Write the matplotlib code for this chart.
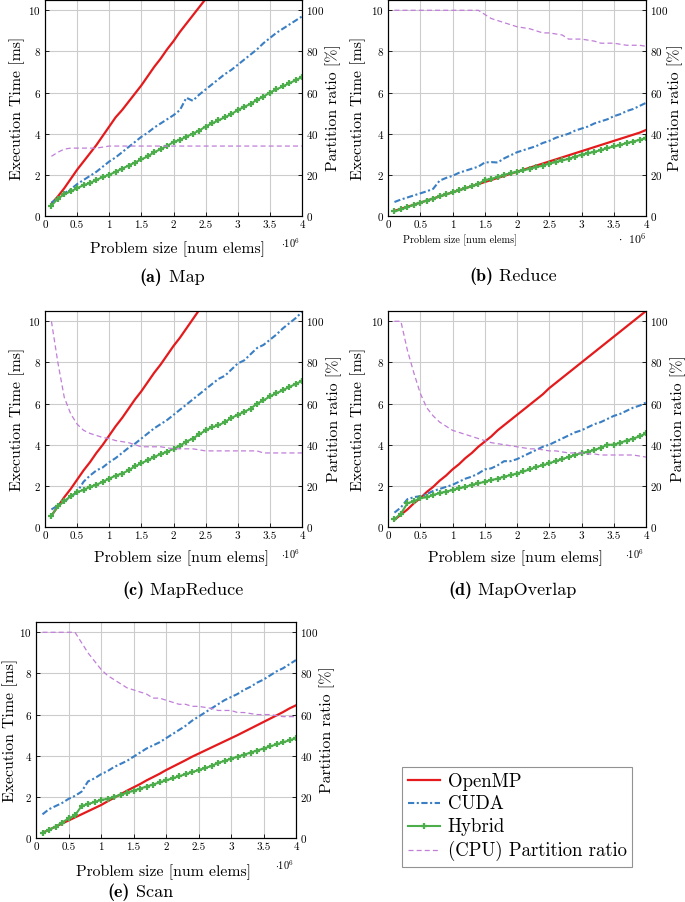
import matplotlib
matplotlib.use("Agg")
import matplotlib.pyplot as plt

plt.rcParams['font.family'] = ['cmr10', 'DejaVu Serif']
plt.rcParams['mathtext.fontset'] = 'cm'
plt.rcParams['axes.formatter.use_mathtext'] = True

# ---------------- data (x in millions of elements) ----------------
X = [0.1, 0.2, 0.3, 0.4, 0.5, 0.6, 0.7, 0.8, 0.9, 1.0,
     1.1, 1.2, 1.3, 1.4, 1.5, 1.6, 1.7, 1.8, 1.9, 2.0,
     2.1, 2.2, 2.3, 2.4, 2.5, 2.6, 2.7, 2.8, 2.9, 3.0,
     3.1, 3.2, 3.3, 3.4, 3.5, 3.6, 3.7, 3.8, 3.9, 4.0]

# (a) Map
map_openmp = [0.6, 0.95, 1.35, 1.8, 2.25, 2.65, 3.05, 3.45, 3.9, 4.35,
              4.8, 5.15, 5.55, 5.95, 6.35, 6.8, 7.25, 7.65, 8.1, 8.5,
              8.95, 9.35, 9.75, 10.15, 10.55, 10.95]
map_cuda = [0.65, 0.85, 1.1, 1.3, 1.55, 1.75, 1.95, 2.15, 2.4, 2.65,
            2.85, 3.1, 3.35, 3.6, 3.85, 4.05, 4.3, 4.5, 4.7, 4.9,
            5.15, 5.75, 5.6, 5.9, 6.15, 6.4, 6.65, 6.9, 7.1, 7.35,
            7.6, 7.85, 8.1, 8.4, 8.65, 8.9, 9.1, 9.3, 9.5, 9.7]
map_hybrid = [0.5, 0.85, 1.05, 1.2, 1.35, 1.5, 1.6, 1.75, 1.9, 2.0,
              2.15, 2.3, 2.45, 2.6, 2.75, 2.9, 3.1, 3.25, 3.4, 3.6,
              3.7, 3.85, 4.0, 4.15, 4.35, 4.5, 4.65, 4.8, 4.95, 5.15,
              5.3, 5.45, 5.65, 5.8, 6.0, 6.15, 6.3, 6.45, 6.6, 6.75]
map_ratio = [29, 31, 32.5, 33, 33, 33, 33, 33, 33.5, 34,
             34, 34, 34, 34, 34, 34, 34, 34, 34, 34,
             34, 34, 34, 34, 34, 34, 34, 34, 34, 34,
             34, 34, 34, 34, 34, 34, 34, 34, 34, 34]

# (b) Reduce
red_openmp = [0.25, 0.35, 0.45, 0.55, 0.65, 0.75, 0.85, 0.95, 1.05, 1.15,
              1.25, 1.35, 1.45, 1.55, 1.65, 1.75, 1.85, 1.95, 2.05, 2.15,
              2.25, 2.35, 2.45, 2.55, 2.65, 2.75, 2.85, 2.95, 3.05, 3.15,
              3.25, 3.35, 3.45, 3.55, 3.65, 3.75, 3.85, 3.95, 4.05, 4.18]
red_cuda = [0.68, 0.8, 0.9, 1.0, 1.1, 1.2, 1.32, 1.72, 1.85, 1.95,
            2.1, 2.2, 2.3, 2.4, 2.6, 2.62, 2.6, 2.8, 2.95, 3.1,
            3.2, 3.3, 3.4, 3.55, 3.65, 3.8, 3.9, 4.0, 4.15, 4.25,
            4.35, 4.5, 4.6, 4.7, 4.85, 4.95, 5.1, 5.2, 5.35, 5.5]
red_hybrid = [0.22, 0.32, 0.42, 0.55, 0.65, 0.75, 0.85, 0.95, 1.05, 1.15,
              1.25, 1.35, 1.45, 1.55, 1.75, 1.8, 1.9, 2.0, 2.08, 2.15,
              2.22, 2.3, 2.38, 2.45, 2.55, 2.62, 2.7, 2.78, 2.88, 2.98,
              3.05, 3.12, 3.2, 3.3, 3.38, 3.45, 3.55, 3.62, 3.7, 3.78]
red_ratio = [100, 100, 100, 100, 100, 100, 100, 100, 100, 100,
             100, 100, 100, 100, 98, 96, 95, 94, 93, 92,
             91.5, 91, 90, 89, 89, 88.5, 88, 86, 86, 86,
             85.5, 85, 84, 84, 84, 83.5, 83, 83, 83, 82.5]

# (c) MapReduce
mr_openmp = [0.55, 1.0, 1.45, 1.85, 2.3, 2.75, 3.15, 3.6, 4.0, 4.45,
             4.9, 5.3, 5.75, 6.2, 6.6, 7.05, 7.5, 7.9, 8.35, 8.8,
             9.2, 9.65, 10.1, 10.55, 11.0]
mr_cuda = [0.85, 1.05, 1.25, 1.45, 1.7, 2.2, 2.5, 2.75, 2.9, 3.15,
           3.35, 3.6, 3.85, 4.05, 4.3, 4.55, 4.8, 5.0, 5.2, 5.45,
           5.7, 5.95, 6.2, 6.45, 6.7, 6.95, 7.2, 7.35, 7.65, 7.95,
           8.1, 8.4, 8.7, 8.85, 9.1, 9.35, 9.65, 9.9, 10.15, 10.45]
mr_hybrid = [0.55, 1.0, 1.25, 1.5, 1.7, 1.8, 1.95, 2.05, 2.2, 2.35,
             2.5, 2.6, 2.75, 2.95, 3.1, 3.25, 3.4, 3.55, 3.65, 3.8,
             3.95, 4.15, 4.3, 4.5, 4.7, 4.85, 4.95, 5.1, 5.3, 5.45,
             5.6, 5.75, 6.0, 6.15, 6.35, 6.5, 6.65, 6.8, 6.95, 7.1]
mr_ratio = [100, 80, 63, 55, 50, 47, 45.5, 44.5, 43.5, 43,
            42, 41.5, 41, 40, 39, 39, 39, 39, 38.5, 38,
            38, 38, 38, 37.5, 37, 37, 37, 37, 37, 37,
            37, 37, 37, 36, 36, 36, 36, 36, 36, 36]

# (d) MapOverlap
mo_openmp = [0.35, 0.6, 0.85, 1.15, 1.4, 1.7, 1.95, 2.25, 2.5, 2.8,
             3.05, 3.35, 3.6, 3.9, 4.15, 4.4, 4.7, 4.95, 5.2, 5.45,
             5.7, 5.95, 6.2, 6.45, 6.75, 7.0, 7.25, 7.5, 7.75, 8.0,
             8.25, 8.5, 8.75, 9.0, 9.25, 9.5, 9.75, 10.0, 10.25, 10.5]
mo_cuda = [0.7, 0.95, 1.35, 1.45, 1.5, 1.6, 1.75, 1.85, 1.95, 2.05,
           2.2, 2.35, 2.45, 2.6, 2.8, 2.85, 3.0, 3.2, 3.2, 3.3,
           3.45, 3.6, 3.75, 3.9, 4.0, 4.15, 4.3, 4.45, 4.6, 4.7,
           4.85, 5.0, 5.1, 5.25, 5.4, 5.5, 5.65, 5.8, 5.9, 6.05]
mo_hybrid = [0.38, 0.65, 1.15, 1.25, 1.4, 1.45, 1.55, 1.65, 1.72, 1.8,
             1.88, 1.95, 2.05, 2.12, 2.2, 2.28, 2.35, 2.45, 2.52, 2.6,
             2.7, 2.8, 2.92, 3.0, 3.1, 3.2, 3.3, 3.4, 3.5, 3.6,
             3.65, 3.75, 3.85, 4.0, 4.0, 4.1, 4.2, 4.3, 4.4, 4.55]
mo_ratio = [100, 100, 86, 75, 65, 58, 54, 51, 49, 47,
            46, 45, 44, 43, 42, 41, 40.5, 40, 39.5, 39,
            38.5, 38, 38, 37.5, 37, 37, 36.5, 36, 36, 36,
            35.5, 35.5, 35, 35, 35, 35, 35, 35, 34.5, 34]

# (e) Scan
sc_openmp = [0.25, 0.4, 0.55, 0.7, 0.85, 1.0, 1.15, 1.3, 1.45, 1.6,
             1.78, 1.95, 2.12, 2.3, 2.46, 2.62, 2.8, 2.96, 3.12, 3.3,
             3.46, 3.62, 3.78, 3.95, 4.1, 4.25, 4.4, 4.55, 4.7, 4.85,
             5.0, 5.16, 5.32, 5.48, 5.64, 5.8, 5.96, 6.12, 6.3, 6.45]
sc_cuda = [1.15, 1.4, 1.55, 1.7, 1.9, 2.05, 2.25, 2.75, 2.9, 3.1,
           3.25, 3.45, 3.6, 3.75, 3.95, 4.15, 4.35, 4.5, 4.65, 4.85,
           5.05, 5.25, 5.45, 5.7, 5.9, 6.1, 6.3, 6.5, 6.7, 6.85,
           7.0, 7.2, 7.35, 7.55, 7.7, 7.9, 8.1, 8.25, 8.45, 8.65]
sc_hybrid = [0.25, 0.4, 0.55, 0.75, 0.95, 1.1, 1.55, 1.65, 1.75, 1.85,
             1.9, 2.0, 2.1, 2.2, 2.3, 2.4, 2.5, 2.6, 2.7, 2.8,
             2.9, 3.0, 3.1, 3.2, 3.3, 3.4, 3.5, 3.65, 3.75, 3.85,
             3.95, 4.05, 4.15, 4.25, 4.35, 4.45, 4.55, 4.65, 4.75, 4.85]
sc_ratio = [100, 100, 100, 100, 100, 100, 95, 90, 86, 82,
            79, 77, 75, 73, 72, 71, 70, 68, 68, 67,
            66, 65, 65, 64, 64, 63.5, 63, 62, 62, 62,
            61, 61, 60.5, 60, 60, 60, 59.5, 59, 59, 59]

XTICKS = [0, 0.5, 1, 1.5, 2, 2.5, 3, 3.5, 4]
XTICKLABELS = ['0', '0.5', '1', '1.5', '2', '2.5', '3', '3.5', '4']
YTICKS = [0, 2, 4, 6, 8, 10]
Y2TICKS = [0, 20, 40, 60, 80, 100]
SERIES_NAMES = ['OpenMP', 'CUDA', 'Hybrid', '(CPU) Partition ratio']
CAPTION_TAGS = ['(a)', '(b)', '(c)', '(d)', '(e)']
CAPTION_NAMES = ['Map', 'Reduce', 'MapReduce', 'MapOverlap', 'Scan']

PANELS = [
    (map_openmp, map_cuda, map_hybrid, map_ratio),
    (red_openmp, red_cuda, red_hybrid, red_ratio),
    (mr_openmp, mr_cuda, mr_hybrid, mr_ratio),
    (mo_openmp, mo_cuda, mo_hybrid, mo_ratio),
    (sc_openmp, sc_cuda, sc_hybrid, sc_ratio),
]

# ---------------- styling / layout ----------------
W, H = 685, 902
fig = plt.figure(figsize=(W / 100, H / 100), dpi=100)

C_RED = '#e41a1c'
C_BLUE = '#3a7fc4'
C_GREEN = '#4cae4a'
C_PURPLE = '#c07ed8'

# axes boxes in pixel coords: left, right, top, bottom
BOXES = [(45, 302, 0, 216), (388, 646, 0, 216),
         (45, 302, 311, 527), (388, 646, 311, 527),
         (36, 296, 622, 838)]
# caption centres (x, y) in pixels
CAPS = [(172, 277), (513, 276), (183, 590), (512, 590), (140, 892)]
XLAB = [(177, 249), None, (182, 558), (515, 558), (163, 872)]
YLAB_L = [17, 358, 17, 358, 10]
YLAB_R = [333, 675, 334, 678, 327]

def px(x, y):
    return x / W, 1 - y / H

LABEL_FS = 11.3
TICK_FS = 8

handles = None
for i, (box, data) in enumerate(zip(BOXES, PANELS)):
    l, r, t, b = box
    ax = fig.add_axes([l / W, 1 - b / H, (r - l) / W, (b - t) / H])
    omp, cuda, hyb, ratio = data
    h1, = ax.plot(X[:len(omp)], omp, color=C_RED, lw=1.6, label=SERIES_NAMES[0], zorder=3)
    h2, = ax.plot(X[:len(cuda)], cuda, color=C_BLUE, lw=1.5,
                  linestyle=(0, (3, 1.2, 1, 1.2)), label=SERIES_NAMES[1], zorder=3)
    h3, = ax.plot(X[:len(hyb)], hyb, color=C_GREEN, lw=1.5, marker='+', ms=4.5, mew=1.6,
                  label=SERIES_NAMES[2], zorder=3)
    ax.set_xlim(0, 4)
    ax.set_ylim(0, 10.5)
    ax.set_xticks(XTICKS)
    ax.set_xticklabels(XTICKLABELS)
    ax.set_yticks(YTICKS)
    ax.grid(True, color='#cccccc', lw=0.8)
    ax.set_axisbelow(True)
    ax.tick_params(direction='in', length=3, width=0.6, labelsize=TICK_FS, pad=3)
    for s in ax.spines.values():
        s.set_linewidth(0.8)

    ax2 = ax.twinx()
    h4, = ax2.plot(X[:len(ratio)], ratio, color=C_PURPLE, lw=0.9, linestyle=(0, (4, 2.5)),
                   label=SERIES_NAMES[3])
    ax2.set_ylim(0, 105)
    ax2.set_yticks(Y2TICKS)
    ax2.tick_params(direction='in', length=3, width=0.6, labelsize=TICK_FS, pad=3)
    if handles is None:
        handles = [h1, h2, h3, h4]

    ymid = (t + b) / 2
    fig.text(*px(YLAB_L[i], ymid), 'Execution Time [ms]', fontsize=LABEL_FS,
             rotation=90, ha='center', va='center')
    fig.text(*px(YLAB_R[i], ymid), 'Partition ratio [%]', fontsize=LABEL_FS,
             rotation=90, ha='center', va='center')

    # x label and multiplier
    if XLAB[i] is not None:
        fig.text(*px(*XLAB[i]), 'Problem size [num elems]', fontsize=LABEL_FS,
                 ha='center', va='center')
        fig.text(*px(r - 2, b + 27), r'$\cdot 10^{6}$', fontsize=7.5,
                 ha='right', va='center')
    else:
        fig.text(*px(460, 240), 'Problem size [num elems]', fontsize=7.3,
                 ha='center', va='center')
        fig.text(*px(646, 239), r'$\cdot\ \ 10^{6}$', fontsize=8.5,
                 ha='right', va='center')

    cx, cy = CAPS[i]
    tag = fig.text(0, 0, CAPTION_TAGS[i], fontsize=13, family='cmb10')
    nm = fig.text(0, 0, ' ' + CAPTION_NAMES[i], fontsize=13)
    fig.canvas.draw()
    rend = fig.canvas.get_renderer()
    wt = tag.get_window_extent(rend).width
    wn = nm.get_window_extent(rend).width
    x0 = cx - (wt + wn) / 2
    tag.set_position(px(x0, cy)); tag.set_va('center')
    nm.set_position(px(x0 + wt, cy)); nm.set_va('center')

leg = fig.legend(handles, SERIES_NAMES, loc='upper left',
                 bbox_to_anchor=px(402, 767), fontsize=13.5, frameon=True,
                 fancybox=False, edgecolor='#777777', borderpad=0.3,
                 handlelength=1.75, handletextpad=0.4, labelspacing=0.26,
                 borderaxespad=0)
leg.get_frame().set_linewidth(0.8)

fig.savefig('out.png', dpi=100)
